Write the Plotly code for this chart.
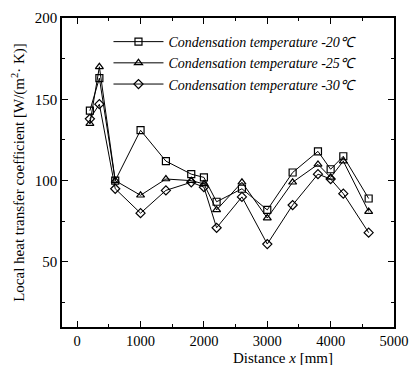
import plotly.graph_objects as go

distance = [200, 350, 600, 1000, 1400, 1800, 2000, 2200, 2600, 3000, 3400, 3800, 4000, 4200, 4600]
h_20 = [143, 163, 100, 131, 112, 104, 102, 87, 95, 82, 105, 118, 107, 115, 89]
h_25 = [135, 170, 100, 91, 101, 100, 98, 82, 99, 77, 99, 110, 102, 112, 81]
h_30 = [138, 147, 95, 80, 94, 99, 96, 71, 90, 61, 85, 104, 101, 92, 68]

names = ["Condensation temperature -20℃",
         "Condensation temperature -25℃",
         "Condensation temperature -30℃"]
x_ticks = [0, 1000, 2000, 3000, 4000, 5000]
y_ticks = [50, 100, 150, 200]

serif = "Liberation Serif, Times New Roman, serif"

fig = go.Figure()
for vals, nm, sym in [(h_20, names[0], "square-open"),
                      (h_25, names[1], "triangle-up-open"),
                      (h_30, names[2], "diamond-open")]:
    fig.add_trace(go.Scatter(
        x=distance, y=vals, name=nm, mode="lines+markers",
        line=dict(color="black", width=1),
        marker=dict(symbol=sym, size=7, color="black", line=dict(width=1.2, color="black")),
    ))

axis_common = dict(
    showgrid=False, zeroline=False, showline=True, linecolor="black", linewidth=1.6,
    mirror="ticks", ticks="inside", ticklen=6, tickcolor="black", tickwidth=1,
    automargin=False,
)
fig.update_xaxes(range=[-240, 5000], tickvals=x_ticks,
                 tickfont=dict(family=serif, size=14.5, color="black"),
                 minor=dict(ticks="inside", dtick=500, tick0=0, ticklen=3, tickcolor="black"),
                 **axis_common)
fig.update_yaxes(range=[10, 200], tickvals=y_ticks,
                 tickfont=dict(family=serif, size=15, color="black"),
                 minor=dict(ticks="inside", dtick=25, tick0=0, ticklen=3, tickcolor="black"),
                 title=dict(text="Local heat transfer coefficient [W/(m<sup>2</sup>· K)]",
                            font=dict(family=serif, size=15, color="black"), standoff=6),
                 **axis_common)

fig.add_annotation(text="Distance <i>x</i> [mm]", xref="paper", yref="paper",
                   x=0.666, y=-0.1, xanchor="center", yanchor="middle", showarrow=False,
                   font=dict(family=serif, size=15, color="black"))

fig.update_layout(
    width=411, height=365,
    margin=dict(l=62, r=17, t=18, b=38, autoexpand=False),
    plot_bgcolor="white", paper_bgcolor="white",
    showlegend=True,
    legend=dict(x=0.14, y=0.974, xanchor="left", yanchor="top",
                bgcolor="rgba(0,0,0,0)", tracegroupgap=0,
                font=dict(family=serif, size=14, color="black", style="italic"),
                itemwidth=50),
)
fig.write_html("out.html", config={"displayModeBar": False},
               post_script="document.body.style.margin='0';document.body.style.overflow='hidden';")
